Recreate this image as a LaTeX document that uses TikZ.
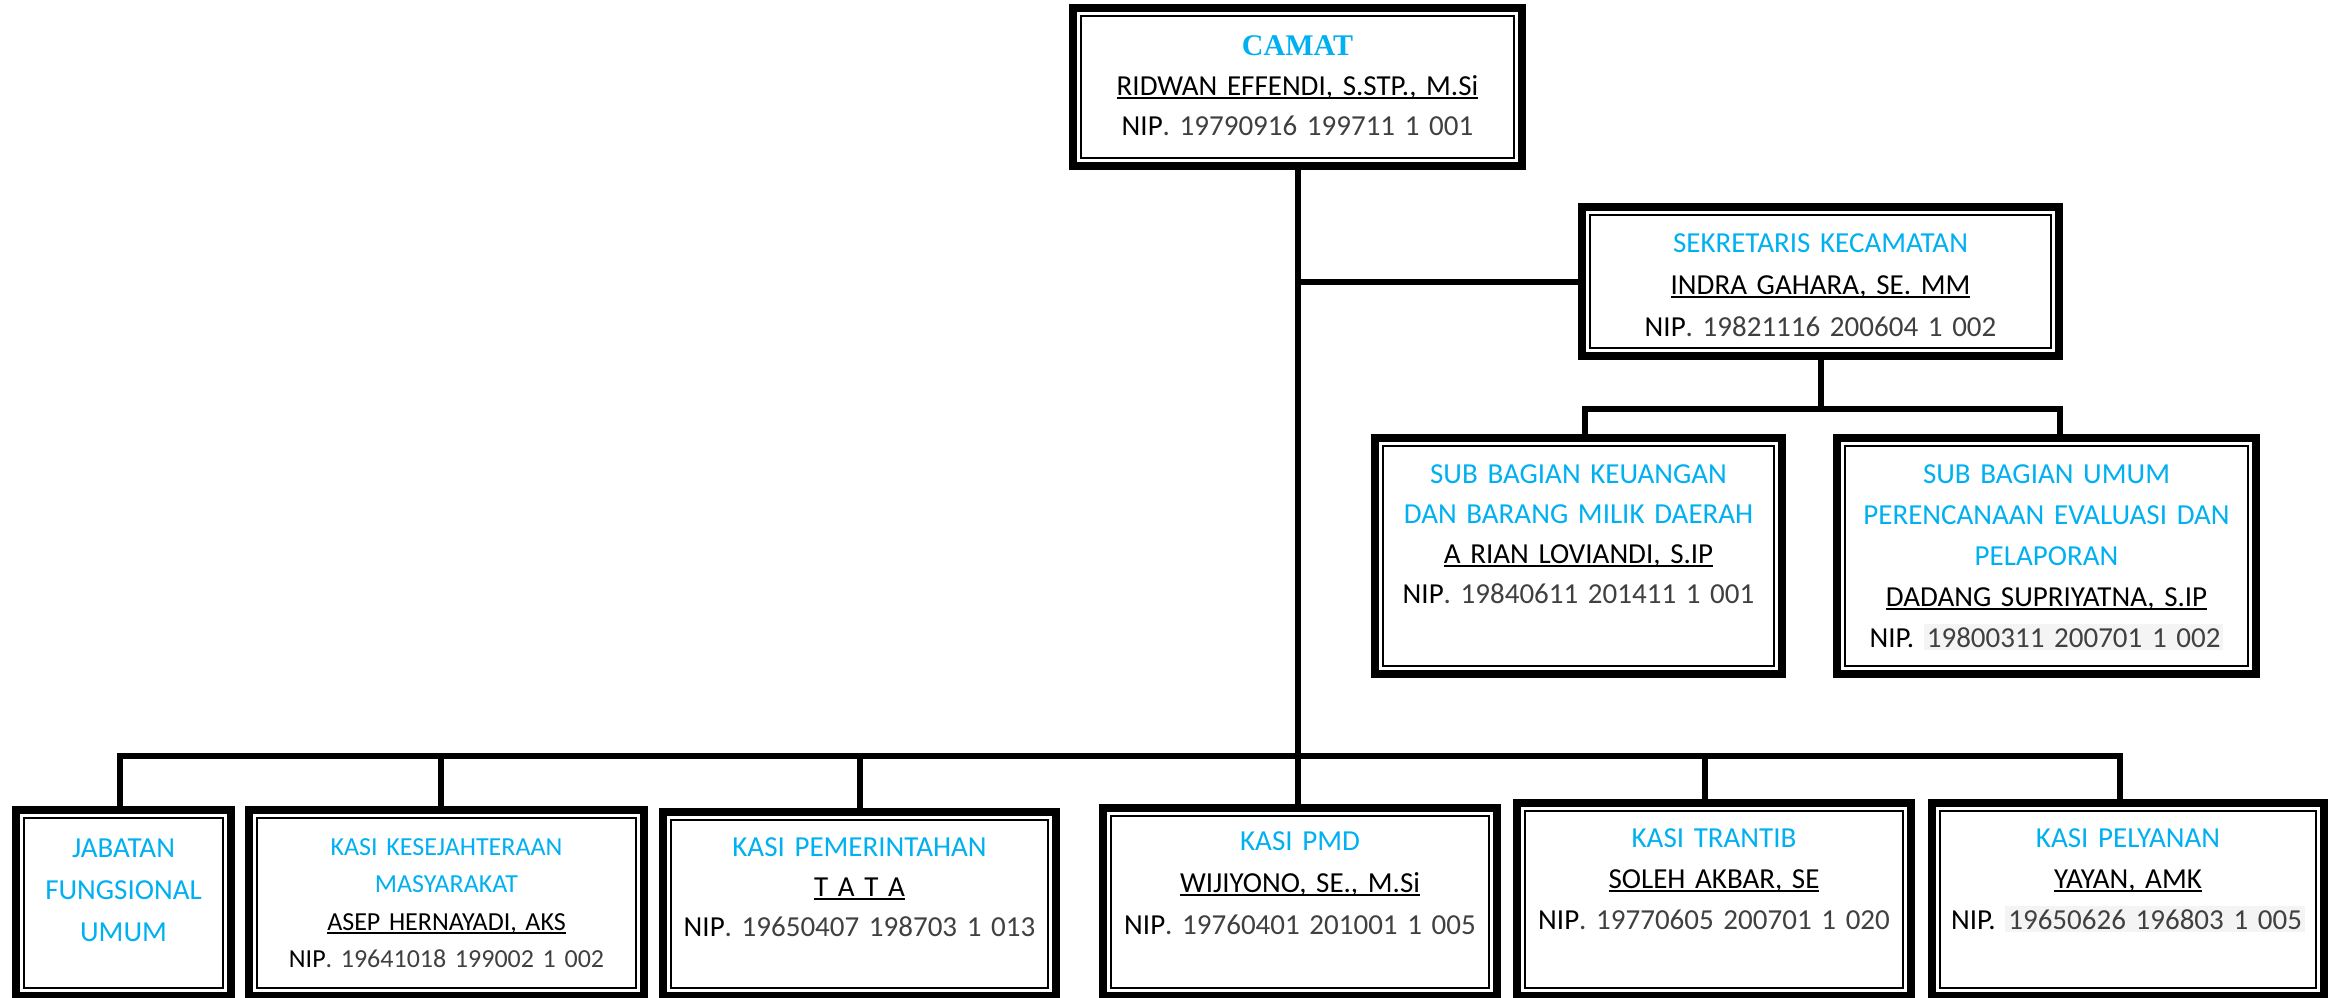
\documentclass[tikz,border=0pt]{standalone}
\usepackage{fontspec}
\setmainfont{Carlito}
\newfontfamily\judul{Liberation Serif}
\usetikzlibrary{calc,positioning}
\definecolor{biru}{HTML}{00B0F0}
\definecolor{abu}{HTML}{404040}
\definecolor{latar}{HTML}{F4F4F4}
\newsavebox\kotaknama
\newcommand{\nama}[1]{\leavevmode\sbox\kotaknama{#1}\rlap{\rule[-2.2pt]{\wd\kotaknama}{1pt}}\usebox\kotaknama}
\newcommand{\nip}[1]{\leavevmode NIP{\color{abu}. #1}}
\newcommand{\nipx}[1]{\leavevmode NIP. {\setlength{\fboxsep}{1.5pt}\colorbox{latar}{\color{abu}#1}}}
\tikzset{
  kotak/.style={rectangle, inner sep=0pt, outer sep=6pt, align=center,
    preaction={draw=black, line width=12pt},
    preaction={fill=white, draw=white, line width=4pt},
    draw=black, line width=1pt,
    font=\fontsize{14.5pt}{20pt}\selectfont},
  garis/.style={line width=3pt}
}
\begin{document}
\begin{tikzpicture}[x=0.5pt, y=-0.5pt]
  \useasboundingbox (0,0) rectangle (2331,997);
  \clip (0,0) rectangle (2331,997);
  \node[kotak, text width=216.5pt, text height=19.5pt, text depth=51.5pt] (camat) at (1297.5,87)
    {{\judul\bfseries\fontsize{15pt}{20pt}\selectfont\color{biru}CAMAT}\\
     \nama{RIDWAN EFFENDI, S.STP., M.Si}\\ \nip{19790916 199711 1 001}};
  \node[kotak, text width=230.5pt, text height=18.5pt, text depth=48pt,
    font=\fontsize{14.5pt}{21pt}\selectfont] (sekcam) at (1820.5,281.5)
    {{\color{biru}SEKRETARIS KECAMATAN}\\
     \nama{INDRA GAHARA, SE. MM}\\ \nip{19821116 200604 1 002}};
  \node[kotak, text width=195.5pt, text height=18.5pt, text depth=91.5pt] (keuangan) at (1578.5,556)
    {{\color{biru}SUB BAGIAN KEUANGAN\\ DAN BARANG MILIK DAERAH}\\
     \nama{A RIAN LOVIANDI, S.IP}\\ \nip{19840611 201411 1 001}};
  \node[kotak, text width=201.5pt, text height=18.5pt, text depth=91.5pt,
    font=\fontsize{14.5pt}{20.5pt}\selectfont] (umum) at (2046.5,556)
    {{\color{biru}SUB BAGIAN UMUM\\ PERENCANAAN EVALUASI DAN\\ PELAPORAN}\\
     \nama{DADANG SUPRIYATNA, S.IP}\\ \nipx{19800311 200701 1 002}};

  \node[kotak, text width=99.5pt, text height=19.5pt, text depth=65.5pt,
    font=\fontsize{14.5pt}{21pt}\selectfont] (jabatan) at (123.5,903)
    {{\color{biru}JABATAN\\ FUNGSIONAL\\ UMUM}};
  \node[kotak, text width=189.5pt, text height=18.5pt, text depth=66.5pt,
    font=\fontsize{13pt}{18.75pt}\selectfont] (kesra) at (446.5,903)
    {{\color{biru}KASI KESEJAHTERAAN\\ MASYARAKAT}\\
     \nama{ASEP HERNAYADI, AKS}\\ \nip{19641018 199002 1 002}};
  \node[kotak, text width=188.5pt, text height=18pt, text depth=66pt] (pemerintahan) at (859.5,904)
    {{\color{biru}KASI PEMERINTAHAN}\\
     \nama{T A T A}\\ \nip{19650407 198703 1 013}};
  \node[kotak, text width=189pt, text height=17pt, text depth=69pt,
    font=\fontsize{14.5pt}{21pt}\selectfont] (pmd) at (1300,902)
    {{\color{biru}KASI PMD}\\
     \nama{WIJIYONO, SE., M.Si}\\ \nip{19760401 201001 1 005}};
  \node[kotak, text width=189pt, text height=18pt, text depth=70.5pt,
    font=\fontsize{14.5pt}{20.5pt}\selectfont] (trantib) at (1714,899.5)
    {{\color{biru}KASI TRANTIB}\\
     \nama{SOLEH AKBAR, SE}\\ \nip{19770605 200701 1 020}};
  \node[kotak, text width=188pt, text height=18pt, text depth=70.5pt,
    font=\fontsize{14.5pt}{20.5pt}\selectfont] (pelayanan) at (2128,899.5)
    {{\color{biru}KASI PELYANAN}\\
     \nama{YAYAN, AMK}\\ \nipx{19650626 196803 1 005}};

  \coordinate (s1) at (1585,409);
  \coordinate (s2) at (2060,409);
  \coordinate (j1) at (120,756);
  \coordinate (j2) at (441,756);
  \coordinate (j3) at (860,756);
  \coordinate (j5) at (1705,756);
  \coordinate (j6) at (2120,756);

  \draw[garis] (camat.south) -- (camat.south |- pmd.north);
  \draw[garis] (camat.south |- sekcam.west) -- (sekcam.west);
  \draw[garis] (sekcam.south) -- (sekcam.south |- s1);
  \draw[garis] (s1 |- keuangan.north) -- (s1) -- (s2) -- (s2 |- umum.north);
  \draw[garis] (j1 |- jabatan.north) -- (j1) -- (j6) -- (j6 |- pelayanan.north);
  \draw[garis] (j2) -- (j2 |- kesra.north);
  \draw[garis] (j3) -- (j3 |- pemerintahan.north);
  \draw[garis] (j5) -- (j5 |- trantib.north);
\end{tikzpicture}
\end{document}
